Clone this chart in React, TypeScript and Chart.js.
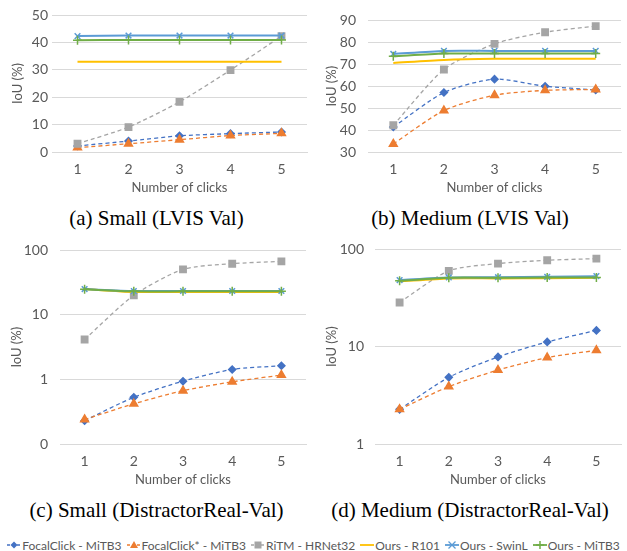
import React, { useEffect, useRef } from 'react';
import { Chart, registerables } from 'chart.js';
Chart.register(...registerables);

const clicks = ['1', '2', '3', '4', '5'];
const seriesNames = ['FocalClick - MiTB3', 'FocalClick* - MiTB3', 'RiTM - HRNet32', 'Ours - R101', 'Ours - SwinL', 'Ours - MiTB3'];

// (a) Small (LVIS Val)
const aFocal = [2.2, 4.0, 5.9, 6.7, 7.3];
const aFocalStar = [1.6, 3.0, 4.5, 6.0, 6.8];
const aRitm = [3.0, 9.1, 18.3, 29.9, 42.3];
const aR101 = [32.9, 32.9, 32.9, 32.9, 32.9];
const aSwinL = [42.3, 42.5, 42.5, 42.5, 42.5];
const aMiTB3 = [40.8, 40.9, 40.9, 40.9, 40.9];

// (b) Medium (LVIS Val)
const bFocal = [41.4, 57.1, 63.2, 60.0, 58.3];
const bFocalStar = [33.7, 48.9, 55.9, 58.1, 58.5];
const bRitm = [42.2, 67.6, 79.3, 84.6, 87.4];
const bR101 = [70.6, 72.0, 72.5, 72.5, 72.5];
const bSwinL = [74.7, 76.1, 76.1, 76.1, 76.1];
const bMiTB3 = [73.6, 74.9, 74.9, 74.9, 74.9];

// (c) Small (DistractorReal-Val)
const cFocal = [0.23, 0.53, 0.94, 1.43, 1.63];
const cFocalStar = [0.24, 0.42, 0.67, 0.92, 1.17];
const cRitm = [4.16, 20.1, 50.8, 62.2, 67.6];
const cR101 = [25.2, 22.7, 22.7, 22.7, 22.7];
const cSwinL = [25.2, 23.5, 23.5, 23.5, 23.5];
const cMiTB3 = [25.0, 23.2, 23.2, 23.2, 23.2];

// (d) Medium (DistractorReal-Val)
const dFocal = [2.27, 4.84, 7.85, 11.2, 14.7];
const dFocalStar = [2.27, 3.89, 5.75, 7.73, 9.18];
const dRitm = [28.5, 60.2, 71.5, 77.3, 80.4];
const dR101 = [46.9, 50.3, 50.3, 50.6, 51.0];
const dSwinL = [48.4, 51.5, 51.8, 52.3, 53.1];
const dMiTB3 = [47.5, 51.1, 51.1, 51.3, 51.5];

const linearTicksA = { min: 0, max: 50, step: 10 };
const linearTicksB = { min: 30, max: 90, step: 10 };
const logTickValuesC = [0.1, 1, 10, 100];
const logTickLabelsC = ['0', '1', '10', '100'];
const logTickValuesD = [1, 10, 100];
const logTickLabelsD = ['1', '10', '100'];

const colors = ['#4472C4', '#ED7D31', '#A5A5A5', '#FFC000', '#5B9BD5', '#70AD47'];
const TEXT = '#595959';
const GRID = '#D9D9D9';
const SANS = 'Lato, "Open Sans", sans-serif';

const seriesStyle = [
  { borderDash: [4, 3], borderWidth: 1.3, pointStyle: 'rectRot', pointRadius: 3.5 },
  { borderDash: [4, 3], borderWidth: 1.3, pointStyle: 'triangle', pointRadius: 4.5 },
  { borderDash: [4, 3], borderWidth: 1.3, pointStyle: 'rect', pointRadius: 4.5 },
  { borderDash: [], borderWidth: 2, pointStyle: 'circle', pointRadius: 0 },
  { borderDash: [], borderWidth: 2, pointStyle: 'crossRot', pointRadius: 4 },
  { borderDash: [], borderWidth: 2, pointStyle: 'cross', pointRadius: 4.5 },
];

type Layout = {
  left: number; top: number; width: number; height: number;
  padTop: number; padRight: number; yWidth: number; xHeight: number;
  yTickPad: number; yTitlePad: number; xTickPad: number; xTitlePad: number;
};

function buildConfig(series: number[][], yScale: any, L: Layout): any {
  return {
    type: 'line',
    data: {
      labels: clicks,
      datasets: series.map((vals, i) => ({
        label: seriesNames[i],
        data: vals,
        borderColor: colors[i],
        backgroundColor: colors[i],
        pointBorderColor: colors[i],
        pointBackgroundColor: colors[i],
        pointBorderWidth: 1.5,
        borderDash: seriesStyle[i].borderDash,
        borderWidth: seriesStyle[i].borderWidth,
        pointStyle: seriesStyle[i].pointStyle,
        pointRadius: seriesStyle[i].pointRadius,
        tension: 0.25,
        fill: false,
        order: 6 - i,
      })),
    },
    options: {
      responsive: false,
      animation: false,
      devicePixelRatio: 1,
      layout: { padding: { top: L.padTop, right: L.padRight, left: 0, bottom: 0 } },
      plugins: { legend: { display: false }, tooltip: { enabled: false } },
      scales: {
        x: {
          type: 'category',
          offset: true,
          grid: { display: false, drawTicks: false },
          border: { display: true, color: GRID },
          ticks: { color: TEXT, font: { family: SANS, size: 14 }, padding: L.xTickPad },
          title: {
            display: true, text: 'Number of clicks', color: TEXT,
            font: { family: SANS, size: 13 }, padding: { top: 0, bottom: L.xTitlePad },
          },
          afterFit: (s: any) => { s.height = L.xHeight; },
        },
        y: {
          ...yScale,
          grid: { color: GRID, drawTicks: false, lineWidth: 1 },
          border: { display: false },
          ticks: { ...(yScale.ticks || {}), color: TEXT, font: { family: SANS, size: 14 }, padding: L.yTickPad },
          title: {
            display: true, text: 'IoU (%)', color: TEXT,
            font: { family: SANS, size: 13 }, padding: { top: L.yTitlePad, bottom: 0 },
          },
          afterFit: (s: any) => { s.width = L.yWidth; },
        },
      },
    },
  };
}

function linearY(t: { min: number; max: number; step: number }) {
  return { type: 'linear', min: t.min, max: t.max, ticks: { stepSize: t.step } };
}

function logY(values: number[], labels: string[]) {
  return {
    type: 'logarithmic',
    min: values[0],
    max: values[values.length - 1],
    afterBuildTicks: (s: any) => { s.ticks = values.map((v) => ({ value: v })); },
    ticks: {
      callback: (v: any) => {
        const idx = values.findIndex((x) => Math.abs(x - Number(v)) < 1e-9);
        return idx >= 0 ? labels[idx] : '';
      },
    },
  };
}

function Panel({ series, yScale, L }: { series: number[][]; yScale: any; L: Layout }) {
  const ref = useRef<HTMLCanvasElement | null>(null);
  useEffect(() => {
    if (!ref.current) return;
    const chart = new Chart(ref.current, buildConfig(series, yScale, L));
    return () => chart.destroy();
  }, []);
  return (
    <canvas
      ref={ref}
      width={L.width}
      height={L.height}
      style={{ position: 'absolute', left: L.left, top: L.top, width: L.width, height: L.height }}
    />
  );
}

function LegendIcon({ i }: { i: number }) {
  const c = colors[i];
  const cx = 7, cy = 6;
  let marker: any = null;
  if (i === 0) marker = <polygon points={`${cx},${cy - 3.5} ${cx + 3.5},${cy} ${cx},${cy + 3.5} ${cx - 3.5},${cy}`} fill={c} />;
  if (i === 1) marker = <polygon points={`${cx},${cy - 4} ${cx + 4},${cy + 3} ${cx - 4},${cy + 3}`} fill={c} />;
  if (i === 2) marker = <rect x={cx - 3.5} y={cy - 3.5} width={7} height={7} fill={c} />;
  if (i === 4) marker = <g stroke={c} strokeWidth={1.3}><line x1={cx - 3.5} y1={cy - 3.5} x2={cx + 3.5} y2={cy + 3.5} /><line x1={cx - 3.5} y1={cy + 3.5} x2={cx + 3.5} y2={cy - 3.5} /></g>;
  if (i === 5) marker = <g stroke={c} strokeWidth={1.5}><line x1={cx - 4} y1={cy} x2={cx + 4} y2={cy} /><line x1={cx} y1={cy - 4} x2={cx} y2={cy + 4} /></g>;
  return (
    <svg width={14} height={12} style={{ marginRight: 1 }}>
      <line x1={0} y1={cy} x2={14} y2={cy} stroke={c} strokeWidth={i < 3 ? 1.3 : 1.8} strokeDasharray={i < 3 ? '3 2' : undefined} />
      {marker}
    </svg>
  );
}

const captionStyle: any = {
  position: 'absolute', fontFamily: '"Liberation Serif", "Times New Roman", serif', fontSize: 21,
  color: '#000', textAlign: 'center', whiteSpace: 'nowrap', lineHeight: '24px',
};

export default function App() {
  const LA: Layout = { left: 0, top: 0, width: 313, height: 200, padTop: 15, padRight: 6, yWidth: 52, xHeight: 48, yTickPad: 4, yTitlePad: 10, xTickPad: 9, xTitlePad: 4 };
  const LB: Layout = { left: 313, top: 0, width: 314, height: 200, padTop: 15, padRight: 5, yWidth: 55, xHeight: 48, yTickPad: 12, yTitlePad: 11, xTickPad: 9, xTitlePad: 4 };
  const LC: Layout = { left: 0, top: 230, width: 313, height: 260, padTop: 17, padRight: 7, yWidth: 60, xHeight: 46, yTickPad: 12, yTitlePad: 9, xTickPad: 9, xTitlePad: 2 };
  const LD: Layout = { left: 313, top: 230, width: 314, height: 260, padTop: 17, padRight: 5, yWidth: 62, xHeight: 46, yTickPad: 11, yTitlePad: 11, xTickPad: 9, xTitlePad: 2 };
  return (
    <div style={{ position: 'absolute', left: 0, top: 0, width: 627, height: 551, background: '#fff', overflow: 'hidden' }}>
      <Panel series={[aFocal, aFocalStar, aRitm, aR101, aSwinL, aMiTB3]} yScale={linearY(linearTicksA)} L={LA} />
      <Panel series={[bFocal, bFocalStar, bRitm, bR101, bSwinL, bMiTB3]} yScale={linearY(linearTicksB)} L={LB} />
      <Panel series={[cFocal, cFocalStar, cRitm, cR101, cSwinL, cMiTB3]} yScale={logY(logTickValuesC, logTickLabelsC)} L={LC} />
      <Panel series={[dFocal, dFocalStar, dRitm, dR101, dSwinL, dMiTB3]} yScale={logY(logTickValuesD, logTickLabelsD)} L={LD} />
      <div style={{ ...captionStyle, left: 0, width: 313, top: 206 }}>(a) Small (LVIS Val)</div>
      <div style={{ ...captionStyle, left: 313, width: 314, top: 206 }}>(b) Medium (LVIS Val)</div>
      <div style={{ ...captionStyle, left: 0, width: 313, top: 498 }}>(c) Small (DistractorReal-Val)</div>
      <div style={{ ...captionStyle, left: 313, width: 314, top: 498 }}>(d) Medium (DistractorReal-Val)</div>
      <div style={{ position: 'absolute', left: 0, width: 627, top: 536, height: 18, display: 'flex', justifyContent: 'center', alignItems: 'center', fontFamily: SANS, fontSize: 12, color: TEXT, whiteSpace: 'nowrap' }}>
        {seriesNames.map((n, i) => (
          <span key={n} style={{ display: 'inline-flex', alignItems: 'center', marginRight: i < 5 ? 5 : 0 }}>
            <LegendIcon i={i} />
            {n}
          </span>
        ))}
      </div>
    </div>
  );
}
